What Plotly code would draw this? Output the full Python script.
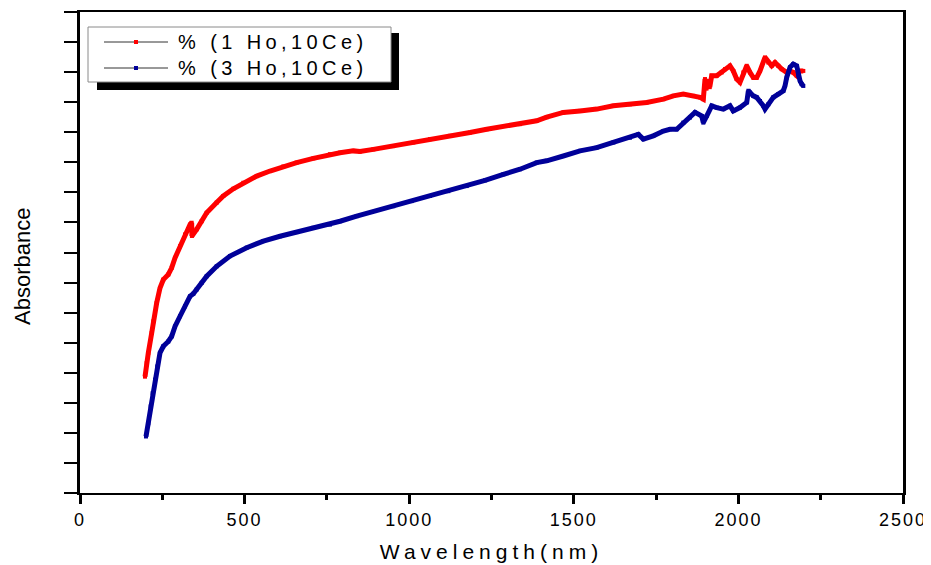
import plotly.graph_objects as go

# ---------------- data ----------------
wl_1ho = [197.5, 202.5, 207.5, 217.7, 222.7, 232.9, 243.0, 253.1, 268.2, 278.5, 288.6, 303.8,
          318.9, 334.1, 339.2, 340.0, 354.4, 369.6, 384.8, 415.2, 435.4, 465.8, 496.2, 536.7,
          577.2, 617.6, 658.1, 708.7, 759.4, 789.8, 830.2, 850.6, 891.0, 951.7, 1012.5, 1063.2,
          1124.0, 1184.7, 1235.4, 1296.1, 1336.6, 1387.3, 1417.6, 1468.2, 1518.9, 1569.6, 1620.2,
          1670.7, 1721.4, 1772.1, 1802.5, 1832.6, 1863.0, 1883.4, 1893.4, 1898.6, 1903.0, 1908.6,
          1913.0, 1918.9, 1934.1, 1949.3, 1959.3, 1974.5, 1984.5, 1994.8, 2004.9, 2014.9, 2025.3,
          2035.3, 2045.3, 2055.6, 2065.6, 2080.8, 2090.9, 2101.2, 2111.2, 2121.2, 2131.5, 2146.7,
          2156.8, 2166.8, 2177.1, 2187.1, 2197.2]
abs_1ho = [3.87, 4.32, 4.66, 5.32, 5.71, 6.32, 6.82, 7.10, 7.27, 7.49, 7.82, 8.21,
           8.60, 8.93, 8.99, 8.55, 8.77, 9.04, 9.32, 9.66, 9.88, 10.12, 10.32, 10.54,
           10.71, 10.86, 10.99, 11.13, 11.27, 11.32, 11.38, 11.36, 11.43, 11.54, 11.66, 11.77,
           11.88, 11.99, 12.10, 12.21, 12.27, 12.38, 12.50, 12.66, 12.71, 12.77, 12.88,
           12.93, 12.99, 13.10, 13.21, 13.27, 13.21, 13.16, 13.10, 13.77, 13.45, 13.71,
           13.50, 13.88, 13.88, 13.99, 14.10, 14.21, 14.04, 13.77, 13.66, 13.99, 14.21,
           13.99, 13.82, 13.82, 14.04, 14.49, 14.32, 14.21, 14.32, 14.21, 14.10, 13.99,
           14.04, 13.99, 13.88, 14.04, 14.04]

wl_3ho = [200.5, 207.5, 214.7, 220.7, 227.8, 234.8, 243.0, 253.1, 268.2, 278.5, 288.6, 303.8,
          318.9, 334.1, 344.2, 354.4, 369.6, 384.8, 415.2, 455.7, 506.3, 556.9, 607.5, 658.1,
          708.7, 759.4, 789.8, 840.5, 896.1, 951.7, 1007.5, 1063.2, 1118.8, 1174.7, 1230.3,
          1285.9, 1336.6, 1387.3, 1417.6, 1468.2, 1518.9, 1569.6, 1620.2, 1670.7, 1696.0, 1711.2,
          1741.6, 1772.1, 1792.2, 1812.6, 1832.6, 1853.0, 1868.2, 1888.5, 1893.4, 1903.6, 1918.9,
          1934.1, 1954.3, 1974.5, 1984.5, 2004.9, 2025.3, 2030.3, 2035.3, 2045.3, 2055.6, 2065.6,
          2075.6, 2080.8, 2090.9, 2106.0, 2121.2, 2136.4, 2141.6, 2146.7, 2156.8, 2166.8, 2177.1,
          2182.0, 2187.1, 2192.3, 2197.2]
abs_3ho = [1.88, 2.32, 2.88, 3.32, 3.77, 4.21, 4.66, 4.88, 5.04, 5.21, 5.54, 5.88,
           6.21, 6.54, 6.63, 6.77, 6.99, 7.21, 7.54, 7.88, 8.16, 8.38, 8.54, 8.68,
           8.82, 8.93, 9.04, 9.21, 9.38, 9.54, 9.71, 9.88, 10.04, 10.21, 10.40,
           10.60, 10.77, 10.99, 11.05, 11.21, 11.38, 11.49, 11.66, 11.82, 11.93, 11.77,
           11.88, 12.04, 12.10, 12.10, 12.32, 12.49, 12.66, 12.54, 12.32, 12.54, 12.88,
           12.82, 12.77, 12.88, 12.71, 12.82, 12.99, 13.38, 13.32, 13.21, 13.16, 13.04,
           12.88, 12.77, 12.93, 13.16, 13.27, 13.38, 13.54, 13.82, 14.16, 14.27, 14.21,
           13.88, 13.71, 13.60, 13.54]

series_names = ["% (1 Ho,10Ce)", "% (3 Ho,10Ce)"]
series_colors = ["#ff0000", "#000099"]
x_ticks = [0, 500, 1000, 1500, 2000, 2500]
x_title = "Wavelength(nm)"
y_title = "Absorbance"

# ---------------- layout geometry ----------------
# page body has an 8px margin, so the figure is sized to fill the rest of the window
OFF = 8
W, H = 931 - OFF, 565 - OFF
PL, PR, PT, PB = 80, 903, 12, 493          # plot area in window pixels
L, T = PL - OFF, PT - OFF
R, B = W - (PR - OFF), H - (PB - OFF)
PW, PH = PR - PL, PB - PT


def px(x):
    return (x - PL) / PW


def py(y):
    return (PB - y) / PH


FONT = "Arial, Liberation Sans, sans-serif"


def spaced(s, sp):
    return '<span style="letter-spacing:%spx">%s</span>' % (sp, s)


fig = go.Figure()
for wl, ab, name, col in [(wl_1ho, abs_1ho, series_names[0], series_colors[0]),
                          (wl_3ho, abs_3ho, series_names[1], series_colors[1])]:
    fig.add_trace(go.Scatter(x=wl, y=ab, name=name, mode="lines+markers",
                             line=dict(color=col, width=5),
                             marker=dict(symbol="square", size=4, color=col),
                             showlegend=False))

fig.update_layout(
    width=W, height=H,
    margin=dict(l=L, r=R, t=T, b=B, autoexpand=False),
    paper_bgcolor="white", plot_bgcolor="white",
    font=dict(family=FONT, color="black"),
    xaxis=dict(range=[0, 2500], tickvals=x_ticks,
               ticktext=[spaced(str(v), 2) for v in x_ticks],
               ticks="outside", ticklen=9, tickwidth=2.5, tickcolor="black",
               minor=dict(dtick=250, ticks="outside", ticklen=5, tickwidth=2.5, tickcolor="black"),
               showline=True, linewidth=2, linecolor="black", mirror=True,
               showgrid=False, zeroline=False, automargin=False,
               tickfont=dict(size=18, family=FONT, color="black"),
               title=dict(text=spaced(x_title, 5), font=dict(size=21, family=FONT, color="black"),
                          standoff=16)),
    yaxis=dict(range=[0, 16], dtick=1, showticklabels=False,
               ticks="outside", ticklen=13, tickwidth=2, tickcolor="black",
               showline=True, linewidth=3, linecolor="black", mirror=True,
               showgrid=False, zeroline=False, automargin=False),
)

# y axis title
fig.add_annotation(x=px(22), y=py(267), xref="paper", yref="paper", text=y_title,
                   textangle=-90, showarrow=False, font=dict(size=22, family=FONT, color="black"),
                   xanchor="center", yanchor="middle")

# legend (drawn box with shadow)
fig.add_shape(type="rect", xref="paper", yref="paper",
              x0=px(97), x1=px(399), y0=py(90), y1=py(33),
              fillcolor="black", line=dict(width=0), layer="above")
fig.add_shape(type="rect", xref="paper", yref="paper",
              x0=px(88), x1=px(391), y0=py(82), y1=py(27),
              fillcolor="white", line=dict(color="#8a8a8a", width=1), layer="above")
for i, (name, col) in enumerate(zip(series_names, series_colors)):
    yy = 42 + 26 * i
    fig.add_shape(type="line", xref="paper", yref="paper",
                  x0=px(104), x1=px(168), y0=py(yy), y1=py(yy),
                  line=dict(color="#333333", width=1), layer="above")
    fig.add_shape(type="rect", xref="paper", yref="paper",
                  x0=px(134), x1=px(138), y0=py(yy + 2), y1=py(yy - 2),
                  fillcolor=col, line=dict(width=0), layer="above")
    fig.add_annotation(x=px(176), y=py(yy), xref="paper", yref="paper",
                       text=spaced(name, 4.4), showarrow=False, xanchor="left", yanchor="middle",
                       font=dict(size=20, family=FONT, color="black"))

fig.write_html("out.html")
